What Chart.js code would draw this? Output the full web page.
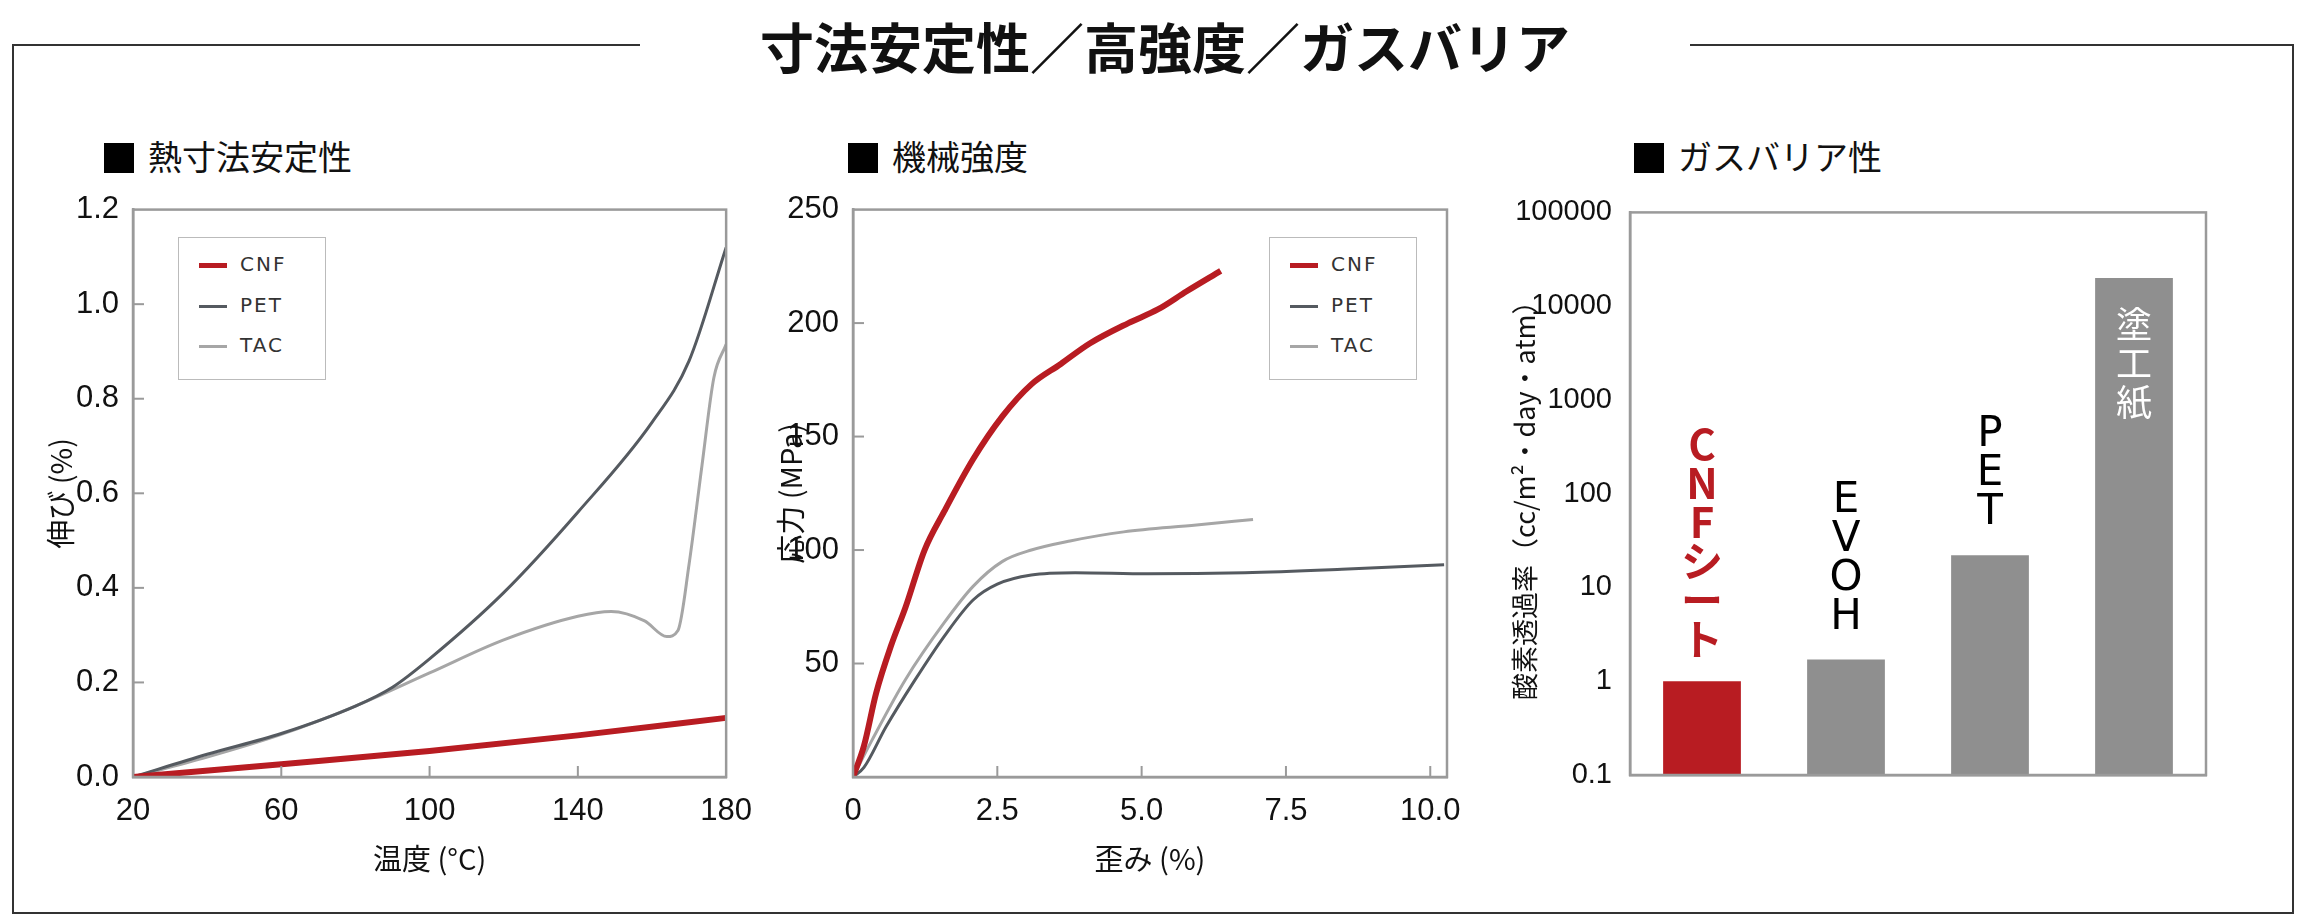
<!DOCTYPE html>
<html><head><meta charset="utf-8">
<script src="https://cdn.jsdelivr.net/npm/chart.js@4/dist/chart.umd.min.js"></script>
<style>
body{margin:0;width:2304px;height:923px;background:#fff;position:relative;overflow:hidden;font-family:"Noto Sans CJK JP",sans-serif}
#frame{position:absolute;left:12px;top:44px;width:2278px;height:866px;border:2px solid #333}
#title{position:absolute;left:640px;width:1050px;top:8px;text-align:center;background:#fff;font-size:54px;font-weight:bold;line-height:76px;color:#111}
.hd{position:absolute;top:132px;font-size:34px;color:#111;line-height:48px}
.hd b{display:inline-block;width:30px;height:30px;background:#000;margin-right:14px;vertical-align:-3px}
.box{position:absolute}
.lg{position:absolute;width:146px;height:141px;border:1.5px solid #bbb;background:#fff;font-family:"DejaVu Sans",sans-serif;font-size:20px;color:#333;letter-spacing:2px}
.lg div{position:absolute;left:20px;height:20px;line-height:20px}
.lg i{display:inline-block;width:28px;vertical-align:middle;margin-right:13px}
</style></head><body>
<div id="frame"></div>
<div id="title">寸法安定性／高強度／ガスバリア</div>
<div class="hd" style="left:104px"><b></b>熱寸法安定性</div>
<div class="hd" style="left:848px"><b></b>機械強度</div>
<div class="hd" style="left:1634px"><b></b>ガスバリア性</div>
<div class="box" style="left:40px;top:185px;width:720px;height:695px"><canvas id="c1"></canvas></div>
<div class="box" style="left:770px;top:185px;width:710px;height:695px"><canvas id="c2"></canvas></div>
<div class="box" style="left:1505px;top:185px;width:735px;height:695px"><canvas id="c3"></canvas></div>
<div class="lg" style="left:178px;top:237px">
<div style="top:16px"><i style="border-top:5px solid #b81c22"></i>CNF</div>
<div style="top:57px"><i style="border-top:3px solid #555a60"></i>PET</div>
<div style="top:97px"><i style="border-top:3px solid #a6a6a6"></i>TAC</div></div>
<div class="lg" style="left:1269px;top:237px">
<div style="top:16px"><i style="border-top:5px solid #b81c22"></i>CNF</div>
<div style="top:57px"><i style="border-top:3px solid #555a60"></i>PET</div>
<div style="top:97px"><i style="border-top:3px solid #a6a6a6"></i>TAC</div></div>
<script>
// Panel 1: thermal expansion
const t1CNF=[[20,0],[60,0.027],[100,0.055],[140,0.088],[180,0.125]];
const t1PET=[[20,0],[40,0.048],[60,0.092],[80,0.15],[90,0.19],[100,0.25],[120,0.39],[140,0.56],[160,0.75],[170,0.88],[180,1.12]];
const t1TAC=[[20,0],[40,0.042],[60,0.09],[80,0.15],[100,0.22],[120,0.29],[140,0.34],[149,0.35],[158,0.33],[164,0.297],[167,0.31],[170,0.45],[173.5,0.66],[176.7,0.845],[180,0.915]];
const xTicks1=[20,60,100,140,180];
// Panel 2: stress-strain
const m2CNF=[[0,0],[0.19,13.7],[0.40,36.9],[0.66,57.9],[0.91,74.8],[1.24,100],[1.58,117],[2.08,140],[2.59,159],[3.09,173],[3.60,182],[4.10,191],[4.77,200],[5.28,206],[5.78,214],[6.37,223]];
const m2PET=[[0,0],[0.19,4.2],[0.57,22],[1.08,43],[1.58,62],[2.08,78],[2.5,85],[3.09,89],[3.85,90],[5.11,89.5],[6.79,90],[8.47,91.5],[10.24,93.5]];
const m2TAC=[[0,0],[0.32,15.8],[0.91,43],[1.58,68],[2.08,84],[2.59,95],[3.09,100],[3.76,104],[4.69,108],[5.95,111],[6.93,113.5]];
const xTicks2=[0,2.5,5,7.5,10];
// Panel 3: oxygen permeability
const gasCats=['CNFシート','EVOH','PET','塗工紙'];
const gasVals=[1.0,1.7,22,20000];
const gasLabelsAbove=[true,true,true,false];

const NUM='"Liberation Sans Narrow","Liberation Sans",sans-serif';
const JP='"Noto Sans CJK JP",sans-serif';
const RED='#b81c22',DARK='#555a60',LIGHT='#a6a6a6',AX='#9a9a9a';
const pts=a=>a.map(p=>({x:p[0],y:p[1]}));

const frame={id:'frame',afterDraw(c){const a=c.chartArea,x=c.ctx;x.save();x.strokeStyle=AX;x.lineWidth=2.5;x.strokeRect(a.left,a.top,a.right-a.left,a.bottom-a.top);
 const o=c.options.plugins.frame||{};
 if(o.ticks){x.lineWidth=2;const sx=c.scales.x,sy=c.scales.y;
  sx.ticks.forEach((t,i)=>{const p=sx.getPixelForTick(i);if(p>a.left+2&&p<a.right-2){x.beginPath();x.moveTo(p,a.bottom);x.lineTo(p,a.bottom-11);x.stroke();}});
  sy.ticks.forEach((t,i)=>{const p=sy.getPixelForTick(i);if(p<a.bottom-2&&p>a.top+2){x.beginPath();x.moveTo(a.left,p);x.lineTo(a.left+11,p);x.stroke();}});}
 x.restore();}};

function lineChart(id,sets,xmin,xmax,xt,xfmt,ymin,ymax,ystep,yfmt,xtitle,ytitle,yw){
 return new Chart(document.getElementById(id),{type:'line',
  data:{datasets:sets.map(s=>({data:pts(s.d),borderColor:s.c,borderWidth:s.w,pointRadius:0,tension:0,cubicInterpolationMode:'monotone',fill:false}))},
  options:{responsive:true,maintainAspectRatio:false,animation:false,layout:{padding:{top:17,right:33,left:0,bottom:0}},
   plugins:{legend:{display:false},tooltip:{enabled:false},frame:{ticks:true}},
   scales:{
    x:{type:'linear',min:xmin,max:xmax,grid:{display:false},border:{color:AX,width:2.5},
     afterBuildTicks:s=>{s.ticks=xt.map(v=>({value:v}));},afterFit:s=>{s.height=103;},
     ticks:{callback:xfmt,font:{family:NUM,size:31},color:'#111',padding:8,maxRotation:0},
     title:{display:true,text:xtitle,font:{family:JP,size:29},color:'#111',padding:{top:4}}},
    y:{type:'linear',min:ymin,max:ymax,grid:{display:false},border:{color:AX,width:2.5},
     afterFit:s=>{s.width=yw;},
     ticks:{stepSize:ystep,callback:yfmt,font:{family:NUM,size:31},color:'#111',padding:6},
     title:{display:true,text:ytitle,font:{family:JP,size:29},color:'#111',padding:{bottom:4}}}}},
  plugins:[frame]});
}
lineChart('c1',[{d:t1CNF,c:RED,w:6},{d:t1PET,c:DARK,w:3},{d:t1TAC,c:LIGHT,w:3}],20,180,xTicks1,v=>String(v),0,1.2,0.2,v=>v.toFixed(1),'温度 (°C)','伸び (%)',93);
lineChart('c2',[{d:m2CNF,c:RED,w:6},{d:m2PET,c:DARK,w:3},{d:m2TAC,c:LIGHT,w:3}],0,10.29,xTicks2,v=>v===0?'0':v.toFixed(1),0,250,50,v=>v===0?'':String(v),'歪み (%)','応力 (MPa)',83);

const barText={id:'barText',afterDatasetsDraw(c){const x=c.ctx,m=c.getDatasetMeta(0);x.save();x.textAlign='center';x.textBaseline='middle';
 m.data.forEach((b,i)=>{const chars=Array.from(gasCats[i]);
  if(gasLabelsAbove[i]){x.fillStyle=i===0?RED:'#000';x.font=(i===0?'bold ':'')+'42px '+(i===0?JP:'"DejaVu Sans",sans-serif');
   chars.forEach((ch,k)=>{x.fillText(ch,b.x,b.y-42-(chars.length-1-k)*39);});}
  else{x.fillStyle='#fff';x.font='36px '+JP;chars.forEach((ch,k)=>{x.fillText(ch,b.x,b.y+46+k*39);});}});
 x.restore();}};
new Chart(document.getElementById('c3'),{type:'bar',
 data:{labels:gasCats,datasets:[{data:gasVals,base:0.1,backgroundColor:[RED,'#8f8f8f','#8f8f8f','#8f8f8f'],categoryPercentage:1,barPercentage:0.54}]},
 options:{responsive:true,maintainAspectRatio:false,animation:false,layout:{padding:{top:16,right:34,left:0,bottom:0}},
  plugins:{legend:{display:false},tooltip:{enabled:false},frame:{ticks:false}},
  scales:{
   x:{grid:{display:false},border:{color:AX,width:2.5},ticks:{display:false},afterFit:s=>{s.height=105;}},
   y:{type:'logarithmic',min:0.1,max:100000,grid:{display:false},border:{color:AX,width:2.5},
    afterBuildTicks:s=>{s.ticks=[0.1,1,10,100,1000,10000,100000].map(v=>({value:v}));},afterFit:s=>{s.width=125;},
    ticks:{callback:v=>String(v),font:{family:NUM,size:29},color:'#111',padding:10},
    title:{display:true,text:'酸素透過率（cc/m²・day・atm）',font:{family:JP,size:27},color:'#111',padding:{bottom:2}}}}},
 plugins:[frame,barText]});
</script></body></html>
